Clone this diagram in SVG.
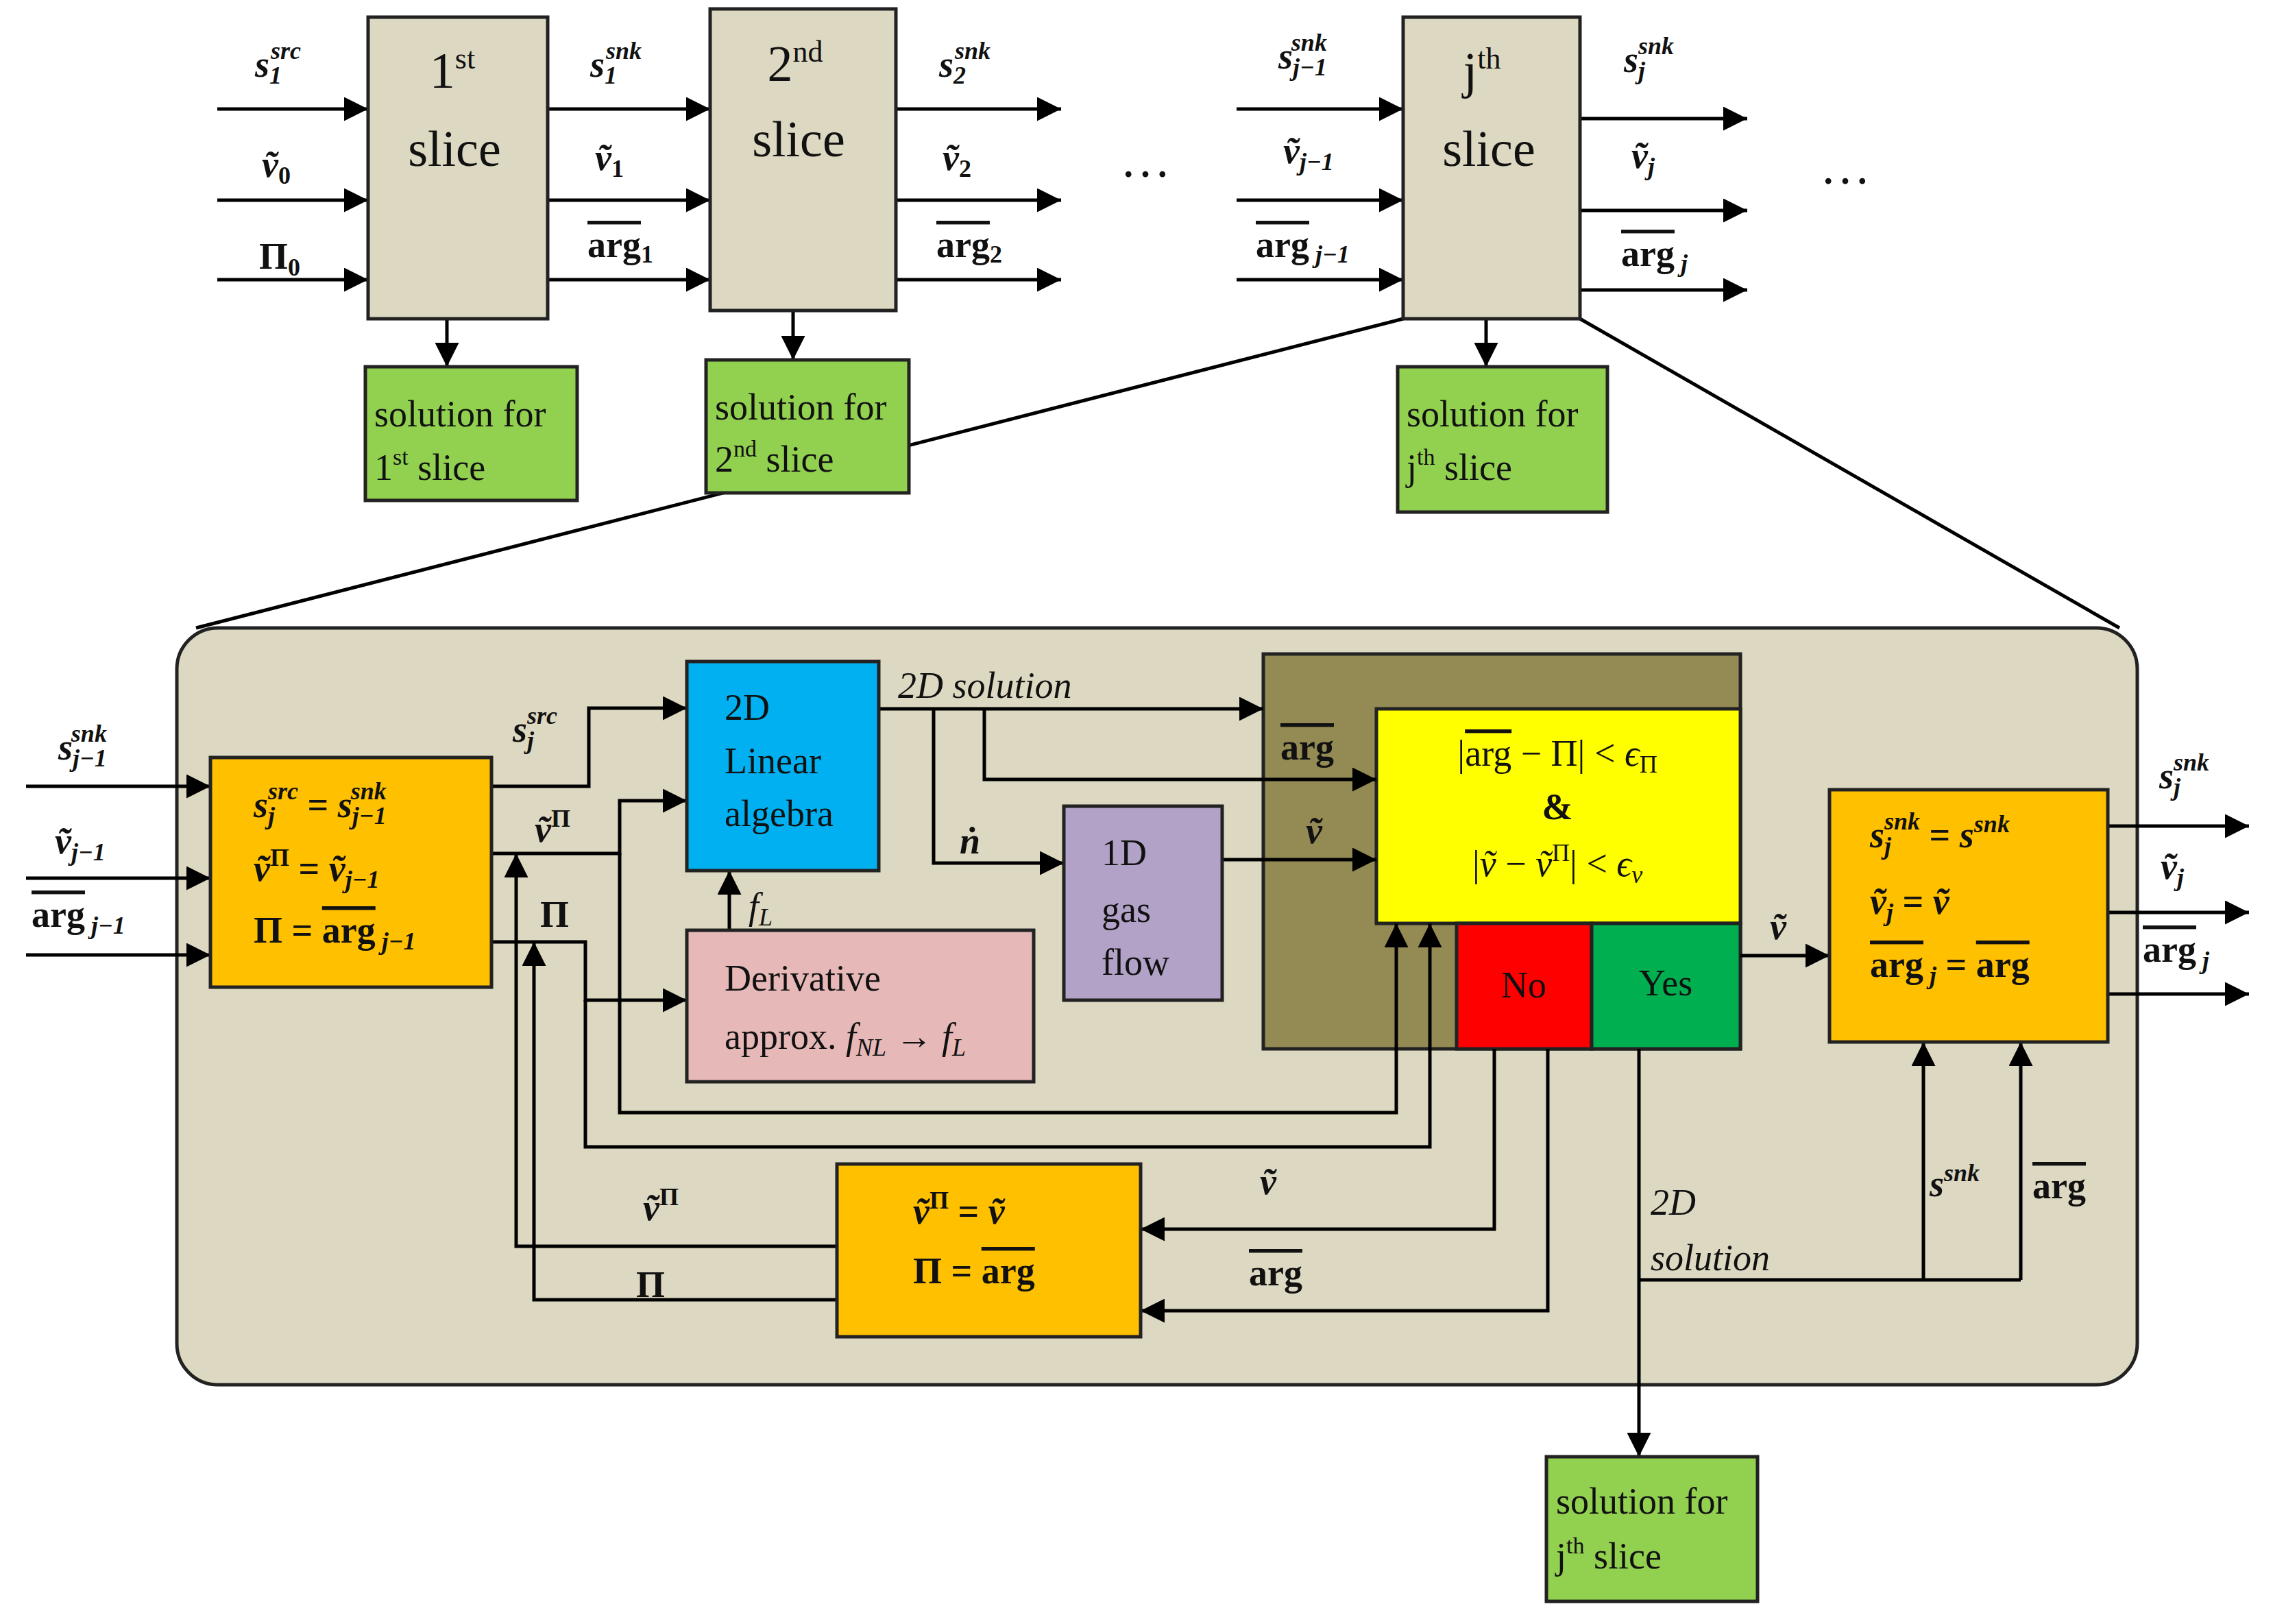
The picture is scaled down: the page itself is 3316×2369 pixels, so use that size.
<svg xmlns="http://www.w3.org/2000/svg" width="3316" height="2369" viewBox="0 0 3316 2369">
<defs>
<marker id="ah" viewBox="0 0 10 10" refX="10" refY="5" markerWidth="7" markerHeight="7" orient="auto" markerUnits="strokeWidth"><path d="M0,0 L10,5 L0,10 z" fill="#000"/></marker>
<style>
text{font-family:"Liberation Serif","DejaVu Serif",serif;fill:#111}
.bx{stroke:#222;stroke-width:5}
.ln{fill:none;stroke:#000;stroke-width:5}
.ar{fill:none;stroke:#000;stroke-width:5;marker-end:url(#ah)}
.big{font-size:74px}
.lbl{font-size:54px;font-weight:bold}
.it{font-style:italic}
.sub{font-size:36px}
.ob{text-decoration:overline}
.box{font-size:54px}
</style>
</defs>
<rect width="3316" height="2369" fill="#fff"/>
<g id="zoom">
<line class="ln" x1="2047" y1="465" x2="286" y2="916" stroke-width="4"/>
<line class="ln" x1="2305" y1="465" x2="3092" y2="916" stroke-width="4"/>
</g>
<g id="bigbox"><rect x="258" y="916" width="2860" height="1104" rx="60" fill="#ddd8c1" stroke="#222" stroke-width="5"/></g>

<g id="check"><rect class="bx" x="1843" y="954" width="696" height="576" fill="#948a54"/>
<rect class="bx" x="2008" y="1034" width="531" height="313" fill="#ffff00"/>
<text class="box" x="2272" y="1117" text-anchor="middle">|<tspan class="ob">arg</tspan> − Π| &lt; <tspan class="it">ϵ</tspan><tspan class="sub" dy="10">Π</tspan></text>
<text class="box" x="2272" y="1195" text-anchor="middle" font-weight="bold">&amp;</text>
<text class="box" x="2272" y="1278" text-anchor="middle">|<tspan class="it">ṽ</tspan> − <tspan class="it">ṽ</tspan><tspan class="sub" dy="-22">Π</tspan><tspan dy="22">| &lt; </tspan><tspan class="it">ϵ</tspan><tspan class="sub it" dy="10">v</tspan></text></g>
<g id="no"><rect class="bx" x="2125" y="1347" width="197" height="183" fill="#ff0000"/><text class="box" x="2223" y="1455" text-anchor="middle" font-size="62">No</text></g>
<g id="yes"><rect class="bx" x="2322" y="1347" width="217" height="183" fill="#00b050"/><text class="box" x="2430" y="1452" text-anchor="middle" font-size="62">Yes</text></g>

<g id="connectors">
<line class="ar" x1="317" y1="159" x2="537" y2="159"/>
<line class="ar" x1="317" y1="292" x2="537" y2="292"/>
<line class="ar" x1="317" y1="408" x2="537" y2="408"/>
<line class="ar" x1="799" y1="159" x2="1036" y2="159"/>
<line class="ar" x1="799" y1="292" x2="1036" y2="292"/>
<line class="ar" x1="799" y1="408" x2="1036" y2="408"/>
<line class="ar" x1="1307" y1="159" x2="1548" y2="159"/>
<line class="ar" x1="1307" y1="292" x2="1548" y2="292"/>
<line class="ar" x1="1307" y1="408" x2="1548" y2="408"/>
<line class="ar" x1="1804" y1="159" x2="2047" y2="159"/>
<line class="ar" x1="1804" y1="292" x2="2047" y2="292"/>
<line class="ar" x1="1804" y1="408" x2="2047" y2="408"/>
<line class="ar" x1="2305" y1="173" x2="2549" y2="173"/>
<line class="ar" x1="2305" y1="307" x2="2549" y2="307"/>
<line class="ar" x1="2305" y1="423" x2="2549" y2="423"/>
<line class="ar" x1="652" y1="465" x2="652" y2="535"/>
<line class="ar" x1="1157" y1="453" x2="1157" y2="525"/>
<line class="ar" x1="2168" y1="465" x2="2168" y2="535"/>
<line class="ar" x1="38" y1="1147" x2="307" y2="1147"/>
<line class="ar" x1="38" y1="1281" x2="307" y2="1281"/>
<line class="ar" x1="38" y1="1393" x2="307" y2="1393"/>
<polyline class="ar" points="717,1147 859,1147 859,1033 1002,1033"/>
<polyline class="ar" points="717,1245 904,1245 904,1168 1002,1168"/>
<polyline class="ar" points="904,1245 904,1623 2037,1623 2037,1347"/>
<polyline class="ar" points="717,1374 854,1374 854,1459 1002,1459"/>
<polyline class="ar" points="854,1459 854,1673 2086,1673 2086,1347"/>
<line class="ar" x1="1064" y1="1357" x2="1064" y2="1270"/>
<line class="ar" x1="1282" y1="1034" x2="1843" y2="1034"/>
<polyline class="ar" points="1362,1034 1362,1259 1552,1259"/>
<polyline class="ar" points="1436,1034 1436,1137 2008,1137"/>
<line class="ar" x1="1783" y1="1254" x2="2008" y2="1254"/>
<polyline class="ar" points="1221,1818 753,1818 753,1245"/>
<polyline class="ar" points="1221,1896 779,1896 779,1374"/>
<polyline class="ar" points="2180,1530 2180,1793 1664,1793"/>
<polyline class="ar" points="2258,1530 2258,1912 1664,1912"/>
<line class="ar" x1="2539" y1="1394" x2="2669" y2="1394"/>
<line class="ar" x1="2391" y1="1530" x2="2391" y2="2125"/>
<polyline class="ln" points="2391,1867 2948,1867"/>
<line class="ar" x1="2806" y1="1867" x2="2806" y2="1520"/>
<line class="ar" x1="2948" y1="1867" x2="2948" y2="1520"/>
<line class="ar" x1="3075" y1="1205" x2="3281" y2="1205"/>
<line class="ar" x1="3075" y1="1331" x2="3281" y2="1331"/>
<line class="ar" x1="3075" y1="1450" x2="3281" y2="1450"/>
</g>

<g id="slice1"><rect class="bx" x="537" y="25" width="262" height="440" fill="#ddd8c1"/>
<text class="big" x="660" y="128" text-anchor="middle">1<tspan font-size="44" dy="-28">st</tspan></text>
<text class="big" x="663" y="242" text-anchor="middle">slice</text></g>
<g id="slice2"><rect class="bx" x="1036" y="13" width="271" height="440" fill="#ddd8c1"/>
<text class="big" x="1160" y="118" text-anchor="middle">2<tspan font-size="44" dy="-28">nd</tspan></text>
<text class="big" x="1165" y="228" text-anchor="middle">slice</text></g>
<g id="slicej"><rect class="bx" x="2047" y="25" width="258" height="440" fill="#ddd8c1"/>
<text class="big" x="2162" y="128" text-anchor="middle">j<tspan font-size="44" dy="-28">th</tspan></text>
<text class="big" x="2172" y="242" text-anchor="middle">slice</text></g>
<g id="sol1"><rect class="bx" x="533" y="535" width="309" height="195" fill="#92d050"/>
<text class="box" x="546" y="622">solution for</text><text class="box" x="546" y="700">1<tspan font-size="34" dy="-22">st</tspan><tspan dy="22"> slice</tspan></text></g>
<g id="sol2"><rect class="bx" x="1030" y="525" width="296" height="194" fill="#92d050"/>
<text class="box" x="1043" y="612">solution for</text><text class="box" x="1043" y="688">2<tspan font-size="34" dy="-22">nd</tspan><tspan dy="22"> slice</tspan></text></g>
<g id="solj"><rect class="bx" x="2039" y="535" width="306" height="212" fill="#92d050"/>
<text class="box" x="2052" y="622">solution for</text><text class="box" x="2052" y="700">j<tspan font-size="34" dy="-22">th</tspan><tspan dy="22"> slice</tspan></text></g>
<g id="dots"><text class="big" x="1671" y="258" text-anchor="middle">…</text><text class="big" x="2692" y="268" text-anchor="middle">…</text></g>

<g id="toplabels" class="lbl">
<text x="372" y="112"><tspan class="it">s</tspan><tspan class="sub it" dy="10">1</tspan><tspan class="sub it" dx="-16" dy="-36">src</tspan></text>
<text x="382" y="258"><tspan class="it">ṽ</tspan><tspan class="sub" dy="10">0</tspan></text>
<text x="378" y="392">Π<tspan class="sub" dy="10">0</tspan></text>
<text x="861" y="112"><tspan class="it">s</tspan><tspan class="sub it" dy="10">1</tspan><tspan class="sub it" dx="-16" dy="-36">snk</tspan></text>
<text x="868" y="248"><tspan class="it">ṽ</tspan><tspan class="sub" dy="10">1</tspan></text>
<text x="857" y="375"><tspan class="ob">arg</tspan><tspan class="sub" dy="8">1</tspan></text>
<text x="1370" y="112"><tspan class="it">s</tspan><tspan class="sub it" dy="10">2</tspan><tspan class="sub it" dx="-16" dy="-36">snk</tspan></text>
<text x="1375" y="248"><tspan class="it">ṽ</tspan><tspan class="sub" dy="10">2</tspan></text>
<text x="1366" y="375"><tspan class="ob">arg</tspan><tspan class="sub" dy="8">2</tspan></text>
<text x="1865" y="100"><tspan class="it">s</tspan><tspan class="sub it" dy="10">j−1</tspan><tspan class="sub it" dx="-52" dy="-36">snk</tspan></text>
<text x="1872" y="238"><tspan class="it">ṽ</tspan><tspan class="sub it" dy="10">j−1</tspan></text>
<text x="1832" y="375"><tspan class="ob">arg</tspan><tspan class="sub it" dy="8"> j−1</tspan></text>
<text x="2369" y="105"><tspan class="it">s</tspan><tspan class="sub it" dy="10">j</tspan><tspan class="sub it" dx="-10" dy="-36">snk</tspan></text>
<text x="2380" y="245"><tspan class="it">ṽ</tspan><tspan class="sub it" dy="10">j</tspan></text>
<text x="2365" y="388"><tspan class="ob">arg</tspan><tspan class="sub it" dy="8"> j</tspan></text>
</g>

<g id="init"><rect class="bx" x="307" y="1105" width="410" height="335" fill="#ffc000"/>
<text class="lbl" x="370" y="1192"><tspan class="it">s</tspan><tspan class="sub it" dy="10">j</tspan><tspan class="sub it" dx="-10" dy="-36">src</tspan><tspan dy="26"> = </tspan><tspan class="it">s</tspan><tspan class="sub it" dy="10">j−1</tspan><tspan class="sub it" dx="-52" dy="-36">snk</tspan></text>
<text class="lbl" x="370" y="1285"><tspan class="it">ṽ</tspan><tspan class="sub" dy="-22">Π</tspan><tspan dy="22"> = </tspan><tspan class="it">ṽ</tspan><tspan class="sub it" dy="10">j−1</tspan></text>
<text class="lbl" x="370" y="1375">Π = <tspan class="ob">arg</tspan><tspan class="sub it" dy="10"> j−1</tspan></text></g>
<g id="linalg"><rect class="bx" x="1002" y="965" width="280" height="305" fill="#00b0f0"/>
<text class="box" x="1057" y="1050">2D</text><text class="box" x="1057" y="1128">Linear</text><text class="box" x="1057" y="1205">algebra</text></g>
<g id="deriv"><rect class="bx" x="1002" y="1357" width="506" height="221" fill="#e6b9b8"/>
<text class="box" x="1057" y="1445">Derivative</text>
<text class="box" x="1057" y="1530">approx. <tspan class="it">f</tspan><tspan class="sub it" dy="10">NL</tspan><tspan dy="-10"> → </tspan><tspan class="it">f</tspan><tspan class="sub it" dy="10">L</tspan></text></g>
<g id="gas"><rect class="bx" x="1552" y="1176" width="231" height="283" fill="#b3a2c7"/>
<text class="box" x="1607" y="1262">1D</text><text class="box" x="1607" y="1345">gas</text><text class="box" x="1607" y="1422">flow</text></g>
<g id="update"><rect class="bx" x="1221" y="1698" width="443" height="252" fill="#ffc000"/>
<text class="lbl" x="1332" y="1785"><tspan class="it">ṽ</tspan><tspan class="sub" dy="-22">Π</tspan><tspan dy="22"> = </tspan><tspan class="it">ṽ</tspan></text>
<text class="lbl" x="1332" y="1872">Π = <tspan class="ob">arg</tspan></text></g>
<g id="final"><rect class="bx" x="2669" y="1152" width="406" height="368" fill="#ffc000"/>
<text class="lbl" x="2728" y="1236"><tspan class="it">s</tspan><tspan class="sub it" dy="10">j</tspan><tspan class="sub it" dx="-10" dy="-36">snk</tspan><tspan dy="26"> = </tspan><tspan class="it">s</tspan><tspan class="sub it" dy="-22">snk</tspan></text>
<text class="lbl" x="2728" y="1333"><tspan class="it">ṽ</tspan><tspan class="sub it" dy="10">j</tspan><tspan dy="-10"> = </tspan><tspan class="it">ṽ</tspan></text>
<text class="lbl" x="2728" y="1425"><tspan class="ob">arg</tspan><tspan class="sub it" dy="10"> j</tspan><tspan dy="-10"> = </tspan><tspan class="ob">arg</tspan></text></g>
<g id="solj2"><rect class="bx" x="2256" y="2125" width="308" height="211" fill="#92d050"/>
<text class="box" x="2270" y="2208">solution for</text><text class="box" x="2270" y="2288">j<tspan font-size="34" dy="-22">th</tspan><tspan dy="22"> slice</tspan></text></g>

<g id="innerlabels" class="lbl">
<text x="85" y="1108"><tspan class="it">s</tspan><tspan class="sub it" dy="10">j−1</tspan><tspan class="sub it" dx="-52" dy="-36">snk</tspan></text>
<text x="80" y="1245"><tspan class="it">ṽ</tspan><tspan class="sub it" dy="10">j−1</tspan></text>
<text x="46" y="1352"><tspan class="ob">arg</tspan><tspan class="sub it" dy="10"> j−1</tspan></text>
<text x="748" y="1082"><tspan class="it">s</tspan><tspan class="sub it" dy="10">j</tspan><tspan class="sub it" dx="-10" dy="-36">src</tspan></text>
<text x="780" y="1228"><tspan class="it">ṽ</tspan><tspan class="sub" dy="-22">Π</tspan></text>
<text x="788" y="1352">Π</text>
<text x="1092" y="1340" class="it" font-weight="normal">f<tspan class="sub" dy="10">L</tspan></text>
<text x="1310" y="1018" class="it" font-weight="normal">2D solution</text>
<text x="1400" y="1245" class="it">ṅ</text>
<text x="1868" y="1108" class="ob">arg</text>
<text x="1905" y="1230" class="it">ṽ</text>
<text x="2582" y="1370" class="it">ṽ</text>
<text x="3150" y="1150"><tspan class="it">s</tspan><tspan class="sub it" dy="10">j</tspan><tspan class="sub it" dx="-10" dy="-36">snk</tspan></text>
<text x="3152" y="1282"><tspan class="it">ṽ</tspan><tspan class="sub it" dy="10">j</tspan></text>
<text x="3126" y="1403"><tspan class="ob">arg</tspan><tspan class="sub it" dy="10"> j</tspan></text>
<text x="938" y="1780"><tspan class="it">ṽ</tspan><tspan class="sub" dy="-22">Π</tspan></text>
<text x="928" y="1892">Π</text>
<text x="1838" y="1742" class="it">ṽ</text>
<text x="1822" y="1875" class="ob">arg</text>
<text x="2408" y="1772" class="it" font-weight="normal">2D</text>
<text x="2408" y="1853" class="it" font-weight="normal">solution</text>
<text x="2815" y="1745"><tspan class="it">s</tspan><tspan class="sub it" dy="-22">snk</tspan></text>
<text x="2965" y="1748" class="ob">arg</text>
</g>
</svg>
